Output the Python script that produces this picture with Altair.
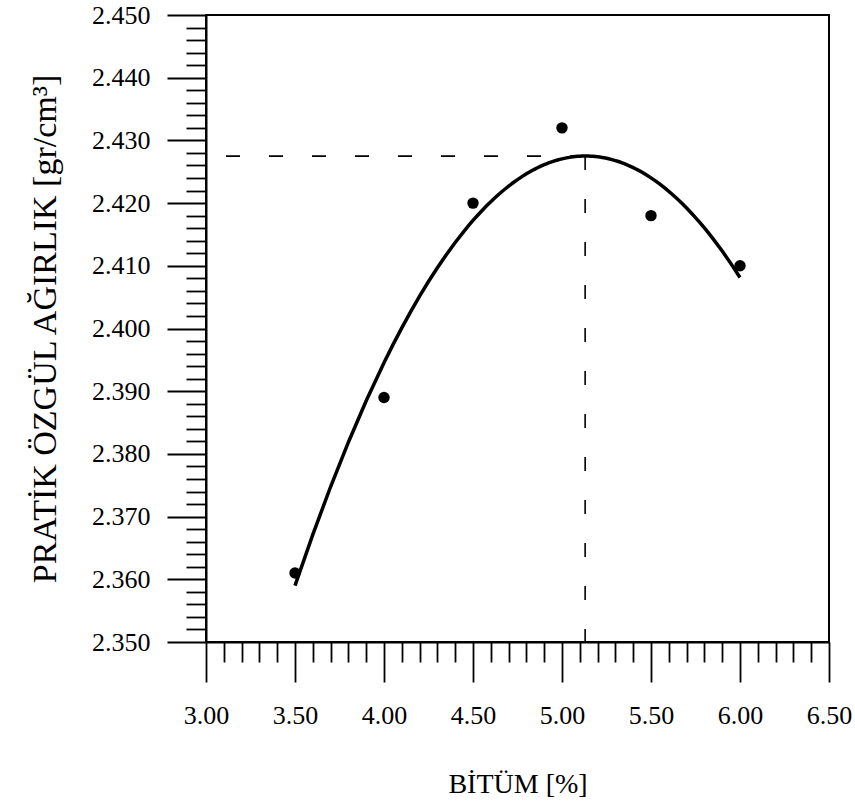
import altair as alt
import pandas as pd

# ---- data ----
bitum = [3.5, 4.0, 4.5, 5.0, 5.5, 6.0]
density = [2.361, 2.389, 2.420, 2.432, 2.418, 2.410]

# optimum (dashed guide lines)
opt_bitum = 5.13
max_density = 2.4275

x_min, x_max = 3.0, 6.5
y_min, y_max = 2.35, 2.45

x_tick_values = [round(3.0 + 0.1 * i, 1) for i in range(36)]
y_tick_values = [round(2.35 + 0.002 * i, 3) for i in range(51)]

df = pd.DataFrame({"bitum": bitum, "density": density})
h_guide = pd.DataFrame({"x": [x_min], "x2": [opt_bitum], "y": [max_density]})
v_guide = pd.DataFrame({"x": [opt_bitum], "y": [max_density], "y2": [y_min]})

FONT = "Liberation Serif"

x_major = "abs(datum.value*2 - round(datum.value*2)) < 0.001"
y_major = "abs(datum.value*100 - round(datum.value*100)) < 0.001"

x_scale = alt.Scale(domain=[x_min, x_max], nice=False, zero=False)
y_scale = alt.Scale(domain=[y_min, y_max], nice=False, zero=False)

x_axis = alt.Axis(
    values=x_tick_values,
    tickCount=500,
    tickSize={"condition": {"test": f"!({x_major})", "value": 20}, "value": 40},
    labelExpr=f"{x_major} ? format(datum.value, '.2f') : ''",
    labelOverlap=False,
    labelFlush=False,
    labelPadding=20,
    labelFont=FONT,
    labelFontSize=26,
    labelColor="black",
    title="BİTÜM [%]",
    titleFont=FONT,
    titleFontSize=28,
    titleFontWeight="normal",
    titleColor="black",
    titlePadding=42,
    grid=False,
    tickColor="black",
    tickWidth=1.8,
    domainColor="black",
    domainWidth=2,
)

y_axis = alt.Axis(
    values=y_tick_values,
    tickCount=500,
    tickSize={"condition": {"test": f"!({y_major})", "value": 20}, "value": 39},
    labelExpr=f"{y_major} ? format(datum.value, '.3f') : ''",
    labelOverlap=False,
    labelFlush=False,
    labelPadding=17,
    labelFont=FONT,
    labelFontSize=26,
    labelColor="black",
    title="PRATİK ÖZGÜL AĞIRLIK [gr/cm³]",
    titleFont=FONT,
    titleFontSize=34,
    titleFontWeight="normal",
    titleColor="black",
    titlePadding=29,
    grid=False,
    tickColor="black",
    tickWidth=1.8,
    domainColor="black",
    domainWidth=2,
)

base = alt.Chart(df)

fit = base.transform_regression(
    "bitum", "density", method="poly", order=2, extent=[3.5, 6.0]
).mark_line(color="black", strokeWidth=3.5).encode(
    x=alt.X("bitum:Q", scale=x_scale, axis=x_axis),
    y=alt.Y("density:Q", scale=y_scale, axis=y_axis),
)

points = base.mark_circle(size=130, color="black", opacity=1).encode(
    x=alt.X("bitum:Q", scale=x_scale),
    y=alt.Y("density:Q", scale=y_scale),
)

h_line = alt.Chart(h_guide).mark_rule(
    color="black", strokeWidth=1.6, strokeDash=[14, 29], strokeDashOffset=23
).encode(
    x=alt.X("x:Q", scale=x_scale),
    x2="x2:Q",
    y=alt.Y("y:Q", scale=y_scale),
)

v_line = alt.Chart(v_guide).mark_rule(
    color="black", strokeWidth=1.6, strokeDash=[14, 29]
).encode(
    x=alt.X("x:Q", scale=x_scale),
    y=alt.Y("y:Q", scale=y_scale),
    y2="y2:Q",
)

chart = alt.layer(h_line, v_line, fit, points).properties(
    width=623,
    height=627,
    autosize="none",
    padding={"left": 206, "top": 15, "right": 26, "bottom": 165},
    background="white",
).configure_view(stroke="black", strokeWidth=2)

chart.save("out.html", embed_options={"renderer": "svg", "actions": False})
